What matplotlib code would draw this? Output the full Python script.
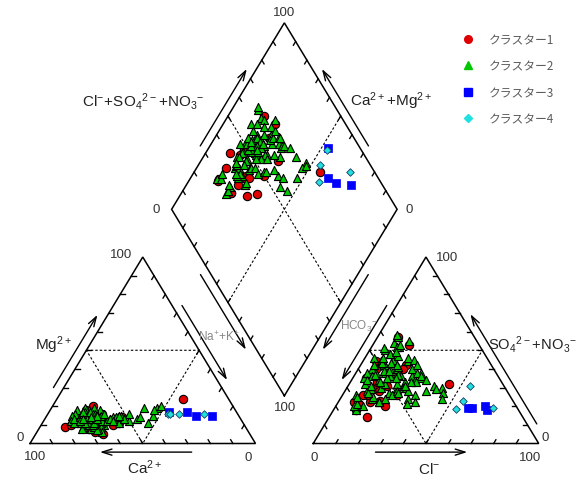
import numpy as np
import matplotlib
matplotlib.use('Agg')
import matplotlib.pyplot as plt
from matplotlib.lines import Line2D

plt.rcParams['font.family'] = ['Liberation Sans', 'Noto Sans CJK JP', 'DejaVu Sans']
plt.rcParams['mathtext.fontset'] = 'custom'
plt.rcParams['mathtext.rm'] = 'Liberation Sans'
plt.rcParams['mathtext.it'] = 'Liberation Sans:italic'
plt.rcParams['mathtext.bf'] = 'Liberation Sans:bold'

# ---------------- data (meq %) ----------------
# cluster 1 (red)
c1_ca  = [70, 52, 75, 66, 80, 63, 70, 62, 64, 73, 60, 66, 68, 58, 71, 65, 20, 55, 62, 77, 69, 66]
c1_mg  = [ 8, 14, 12, 11,  9, 12, 14, 15, 12, 14, 16, 18,  6, 10, 13,  5, 24, 11, 20, 10, 15, 12]
c1_cl  = [10, 22, 10, 14,  6, 18,  9, 16, 20,  7, 12,  8, 15, 24, 12, 11, 44, 20,  6,  9, 17, 17]
c1_so4 = [21, 20, 18, 22, 35, 23, 57, 53, 42, 22, 30, 40, 28, 26, 33, 26, 32, 40, 44, 26, 31, 14]

# cluster 2 (green)
c2_ca  = [68, 66, 70, 64, 72, 62, 67, 65, 69, 63, 71, 60, 66, 68, 64, 70, 62, 67, 65, 69,
          63, 72, 61, 66, 68, 64, 70, 67, 65, 71, 62, 69, 60, 66, 73, 63, 67, 64, 70, 65,
          61, 68, 72, 66, 62, 69, 64, 67, 63, 71, 72, 74, 76, 75, 74,
          67, 65, 69, 63, 71, 66, 64, 68, 62, 70, 65, 67, 69, 61, 72, 66, 64, 68, 63, 70,
          66, 58, 60, 56, 59, 56, 54, 58, 52, 55,
          50, 46, 42, 48, 38, 44, 52, 55, 34, 32, 36, 40, 57, 53]
c2_mg  = [12, 14, 10, 15,  9, 16, 13, 11, 14, 17, 12, 18, 10, 16, 12, 14, 10, 15, 18,  8,
          14, 13, 12, 16, 11, 17, 15,  9, 13, 16, 14, 12, 15, 19,  8, 11, 17,  9, 18,  6,
          13, 15, 11,  8, 19, 10, 14,  7, 16, 13, 16, 15, 12, 11, 13,
          12, 15, 11, 13, 14, 13, 16, 14, 12, 11, 17, 10, 16, 15, 12, 11, 13, 17, 15, 13,
          14, 13, 12, 14, 16, 12, 14, 13, 15, 11,
          12, 13, 11, 16, 15, 14, 13, 14, 19, 20, 18, 19, 12, 15]
c2_cl  = [10, 12,  8, 14,  6, 18, 10, 15,  7, 20,  5, 22, 12,  9, 16,  6, 24, 11, 14,  8,
          18,  4, 26, 10, 13,  7, 12,  9, 15,  6, 20, 17, 28,  5, 11, 22,  8, 13, 10, 16,
          24, 19,  7, 14, 11, 21,  9, 18, 25, 13, 12,  8,  8,  9,  7,
          11, 13,  9, 17,  8, 14, 12, 15, 21, 11,  9, 19, 12, 23, 10, 16,  8,  6, 19, 14,
          20, 26, 29, 30, 22, 27, 30, 25, 33, 29,
          28, 32, 36, 38, 42, 30, 25, 27, 40, 44, 34, 45, 24, 31]
c2_so4 = [18, 20, 22, 24, 26, 22, 28, 30, 32, 27, 35, 30, 34, 38, 36, 40, 33, 42, 40, 44,
          38, 46, 36, 48, 45, 50, 52, 54, 55, 42, 44, 40, 34, 38, 30, 26, 36, 43, 48, 32,
          40, 46, 34, 25, 52, 36, 57, 22, 30, 38, 53, 58, 20, 21, 25,
          29, 33, 37, 41, 45, 47, 39, 35, 32, 27, 43, 37, 49, 28, 31, 42, 46, 51, 35, 39,
          24, 30, 38, 35, 45, 38, 36, 42, 34, 33,
          28, 26, 28, 31, 30, 24, 31, 33, 29, 27, 22, 24, 27, 21]

# cluster 3 (blue)
c3_ca  = [30, 22, 19, 12]
c3_mg  = [17, 17, 15, 15]
c3_cl  = [66, 59, 61, 68]
c3_so4 = [20, 19, 19, 18]

# cluster 4 (cyan)
c4_ca  = [31, 30, 26, 15]
c4_mg  = [16, 16, 16, 16]
c4_cl  = [54, 55, 54, 70]
c4_so4 = [31, 23, 18.5, 19]

cluster_labels = ['クラスター1', 'クラスター2', 'クラスター3', 'クラスター4']

# ---------------- geometry ----------------
H = np.sqrt(3) / 2
GAP = 0.256
OX = 1 + GAP
B = np.array([1 + GAP / 2, GAP * H])
R = B + np.array([0.5, H])
T = B + np.array([0.0, 2 * H])
L = B + np.array([-0.5, H])


def cation_xy(ca, mg):
    ca = np.asarray(ca, float) / 100
    mg = np.asarray(mg, float) / 100
    na = 1 - ca - mg
    return na + 0.5 * mg, mg * H


def anion_xy(cl, so4):
    cl = np.asarray(cl, float) / 100
    s = np.asarray(so4, float) / 100
    return OX + cl + 0.5 * s, s * H


def diamond_xy(ca, mg, cl, so4):
    C = (np.asarray(ca, float) + np.asarray(mg, float)) / 100
    A = (np.asarray(cl, float) + np.asarray(so4, float)) / 100
    return B[0] + 0.5 * (A - C), B[1] + H * (A + C)


fig = plt.figure(figsize=(5.79, 4.81), dpi=100)
ax = fig.add_axes([0, 0, 1, 1])
ax.set_xlim((0 - 30) / 225.5, (579 - 30) / 225.5)
ax.set_ylim((444.5 - 481) / 215.3, 444.5 / 215.3)
ax.axis('off')

LW = 1.1
# frames
tri_l = np.array([[0, 0], [1, 0], [0.5, H], [0, 0]])
tri_r = np.array([[OX, 0], [OX + 1, 0], [OX + 0.5, H], [OX, 0]])
dia = np.array([B, R, T, L, B])
for poly in (tri_l, tri_r, dia):
    ax.plot(poly[:, 0], poly[:, 1], color='black', lw=LW, solid_joinstyle='miter', zorder=2)

# dashed inner lines
dash = dict(color='black', lw=0.8, ls=(0, (2.2, 1.8)), zorder=1)
for ox in (0, OX):
    pts = np.array([[ox + 0.25, H / 2], [ox + 0.75, H / 2], [ox + 0.5, 0], [ox + 0.25, H / 2]])
    ax.plot(pts[:, 0], pts[:, 1], **dash)
m1, m2 = (L + T) / 2, (B + R) / 2
ax.plot([m1[0], m2[0]], [m1[1], m2[1]], **dash)
m1, m2 = (T + R) / 2, (L + B) / 2
ax.plot([m1[0], m2[0]], [m1[1], m2[1]], **dash)

# ticks
TL = 0.02


def ticks(p0, p1, d):
    p0 = np.asarray(p0, float); p1 = np.asarray(p1, float); d = np.asarray(d, float)
    for t in np.arange(1, 10) / 10:
        p = p0 + t * (p1 - p0)
        q = p + TL * d
        ax.plot([p[0], q[0]], [p[1], q[1]], color='black', lw=LW * 0.9, zorder=2)


ticks((0, 0), (1, 0), (-0.5, H))
ticks((0, 0), (0.5, H), (1, 0))
ticks((1, 0), (0.5, H), (-0.5, -H))
ticks((OX, 0), (OX + 1, 0), (0.5, H))
ticks((OX, 0), (OX + 0.5, H), (0.5, -H))
ticks((OX + 1, 0), (OX + 0.5, H), (-1, 0))
ticks(L, T, (0.5, -H))
ticks(T, R, (-0.5, -H))
ticks(L, B, (0.5, H))
ticks(B, R, (-0.5, H))

# arrows


def arrow(p0, p1, t0, t1, off):
    p0 = np.asarray(p0, float); p1 = np.asarray(p1, float); off = np.asarray(off, float)
    s = p0 + t0 * (p1 - p0) + off
    e = p0 + t1 * (p1 - p0) + off
    ax.annotate('', xy=e, xytext=s,
                arrowprops=dict(arrowstyle='->,head_length=0.7,head_width=0.22',
                                lw=1.0, color='black', shrinkA=0, shrinkB=0))


arrow((0, 0), (0.5, H), 0.30, 0.69, (-0.046, 0))
arrow((0.5, H), (1, 0), 0.26, 0.66, (0.044, 0))
arrow((1, 0), (0, 0), 0.283, 0.69, (0, -0.040))
arrow((OX, 0), (OX + 1, 0), 0.276, 0.683, (0, -0.040))
arrow((OX + 0.5, H), (OX, 0), 0.26, 0.66, (-0.044, 0))
arrow((OX + 1, 0), (OX + 0.5, H), 0.105, 0.694, (0.044, 0))
arrow(L, T, 0.34, 0.753, (-0.043, 0))
arrow(R, T, 0.34, 0.753, (0.043, 0))
arrow(L, B, 0.35, 0.753, (-0.047, 0))
arrow(R, B, 0.35, 0.753, (0.047, 0))

# ---------------- text ----------------


def px(xp, yp):
    return (xp - 30) / 225.5, (444.5 - yp) / 215.3


NUM = dict(fontsize=9.5, color='#333333', ha='center', va='center')
for (xp, yp, s) in [(121, 255, '100'), (20, 438, '0'), (35, 457, '100'), (248, 458, '0'),
                    (447, 258, '100'), (545, 438, '0'), (314, 458, '0'), (530, 458, '100'),
                    (284, 13, '100'), (156, 210, '0'), (409, 210, '0'), (285, 408, '100')]:
    ax.text(*px(xp, yp), s, **NUM)

BIG = dict(fontsize=11, color='#222222', ha='left', va='baseline')
ax.text(*px(35, 350), r'$\mathrm{Mg^{2+}}$', **BIG)
ax.text(*px(127, 474), r'$\mathrm{Ca^{2+}}$', **BIG)
ax.text(*px(418, 474), r'$\mathrm{Cl^{-}}$', **BIG)
ax.text(*px(488, 350), r'$\mathrm{SO_4{}^{2-}\!+\!NO_3{}^{-}}$',
        **dict(BIG, fontsize=10.6))
ax.text(*px(82, 106.5), r'$\mathrm{Cl^{-}\!+\!SO_4{}^{2-}\!+\!NO_3{}^{-}}$', **BIG)
ax.text(*px(350, 106.5), r'$\mathrm{Ca^{2+}\!+\!Mg^{2+}}$', **BIG)
SMALL = dict(fontsize=8.5, color='#888888', ha='left', va='baseline')
ax.text(*px(198, 341), r'$\mathrm{Na^{+}\!+\!K^{+}}$', **SMALL)
ax.text(*px(340, 330), r'$\mathrm{HCO_3{}^{-}}$', **SMALL)

# ---------------- points ----------------
styles = [
    dict(marker='o', s=36, c='#E00000', edgecolors='black', linewidths=0.8),
    dict(marker='^', s=34, c='#00C800', edgecolors='black', linewidths=0.8),
    dict(marker='s', s=36, c='#0000FF', edgecolors='#0000FF', linewidths=0.5),
    dict(marker='D', s=15, c='#20E0E0', edgecolors='#1A3A60', linewidths=0.6),
]
clusters = [(c1_ca, c1_mg, c1_cl, c1_so4), (c2_ca, c2_mg, c2_cl, c2_so4),
            (c3_ca, c3_mg, c3_cl, c3_so4), (c4_ca, c4_mg, c4_cl, c4_so4)]
for i, ((ca, mg, cl, so4), st) in enumerate(zip(clusters, styles)):
    z = 5 + i
    ax.scatter(*cation_xy(ca, mg), zorder=z, **st)
    ax.scatter(*anion_xy(cl, so4), zorder=z, **st)
    ax.scatter(*diamond_xy(ca, mg, cl, so4), zorder=z, **st)

# legend
handles = [
    Line2D([], [], ls='none', marker='o', ms=5.5, mfc='#E00000', mec='#E00000'),
    Line2D([], [], ls='none', marker='^', ms=5.5, mfc='#00C800', mec='#00C800'),
    Line2D([], [], ls='none', marker='s', ms=5.5, mfc='#0000FF', mec='#0000FF'),
    Line2D([], [], ls='none', marker='D', ms=4.0, mfc='#20E0E0', mec='#20E0E0'),
]
leg = ax.legend(handles, cluster_labels, loc='upper left',
                bbox_to_anchor=(462 / 579, 1 - 34 / 481), frameon=False,
                labelcolor='#5a5a5a', handlelength=1.0,
                handletextpad=1.29, labelspacing=1.14, borderpad=0, borderaxespad=0,
                prop={'family': ['Noto Sans CJK JP'], 'size': 8.5})

fig.savefig('out.png', dpi=100)
